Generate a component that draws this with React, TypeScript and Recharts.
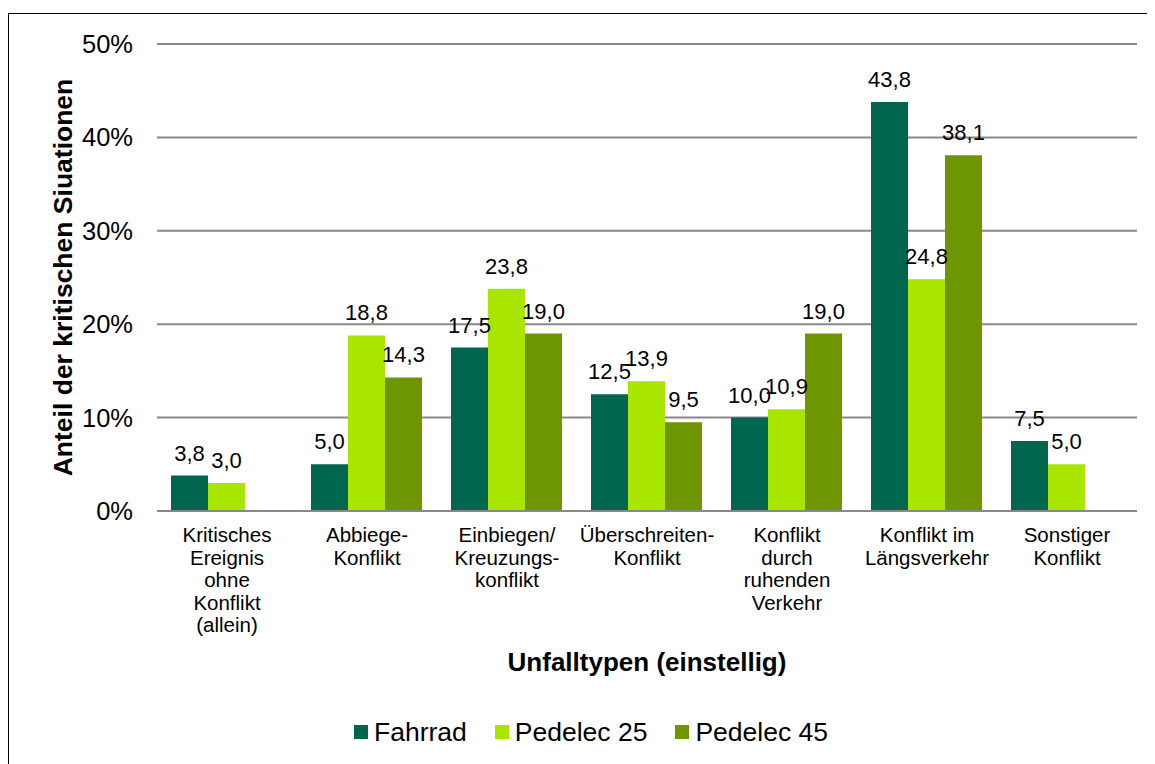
import { BarChart, Bar, XAxis, YAxis, CartesianGrid, LabelList, Legend } from "recharts";

const categories = [
  "Kritisches\nEreignis\nohne\nKonflikt\n(allein)",
  "Abbiege-\nKonflikt",
  "Einbiegen/\nKreuzungs-\nkonflikt",
  "Überschreiten-\nKonflikt",
  "Konflikt\ndurch\nruhenden\nVerkehr",
  "Konflikt im\nLängsverkehr",
  "Sonstiger\nKonflikt",
];
const fahrrad = [3.8, 5.0, 17.5, 12.5, 10.0, 43.8, 7.5];
const pedelec25 = [3.0, 18.8, 23.8, 13.9, 10.9, 24.8, 5.0];
const pedelec45 = [0.0, 14.3, 19.0, 9.5, 19.0, 38.1, 0.0];
const yTicks = [0, 10, 20, 30, 40, 50];

const series = [
  { key: "fahrrad", name: "Fahrrad", color: "#00664E" },
  { key: "pedelec25", name: "Pedelec 25", color: "#A8E600" },
  { key: "pedelec45", name: "Pedelec 45", color: "#6E9600" },
];

const data = categories.map((c, i) => ({
  category: c,
  fahrrad: fahrrad[i],
  pedelec25: pedelec25[i],
  pedelec45: pedelec45[i],
}));

const fmt = (v: number) => v.toFixed(1).replace(".", ",");

const CategoryTick = ({ x, y, payload }: any) => {
  const lines = String(payload.value).split("\n");
  return (
    <text x={x} y={y + 31} textAnchor="middle" fontSize={20.5} fill="#000">
      {lines.map((l, i) => (
        <tspan key={i} x={x} dy={i === 0 ? 0 : 22.5}>
          {l}
        </tspan>
      ))}
    </text>
  );
};

const YTitle = ({ viewBox }: any) => {
  const cx = 63;
  const cy = viewBox.y + viewBox.height / 2;
  return (
    <text
      x={cx}
      y={cy}
      transform={`rotate(-90 ${cx} ${cy})`}
      textAnchor="middle"
      fontSize={26.5}
      fontWeight="bold"
      fill="#000"
    >
      Anteil der kritischen Siuationen
    </text>
  );
};

const XTitle = ({ viewBox }: any) => (
  <text
    x={viewBox.x + viewBox.width / 2}
    y={viewBox.y + 160}
    textAnchor="middle"
    fontSize={26}
    fontWeight="bold"
    fill="#000"
  >
    Unfalltypen (einstellig)
  </text>
);

const LegendBox = () => (
  <div style={{ display: "flex", height: 30, alignItems: "center", paddingLeft: 345, fontSize: 26.5, color: "#000" }}>
    {series.map((s) => (
      <div key={s.key} style={{ display: "flex", alignItems: "center", marginRight: 28 }}>
        <div style={{ width: 14, height: 14, background: s.color, marginRight: 6 }} />
        <span>{s.name}</span>
      </div>
    ))}
  </div>
);

export default function App() {
  return (
    <div style={{ height: 756, paddingTop: 5, boxSizing: "border-box", overflow: "hidden" }}>
      <div
        style={{
          width: 1147,
          height: 751,
          boxSizing: "border-box",
          overflow: "hidden",
          borderTop: "1px solid #000",
          borderLeft: "1px solid #000",
          fontFamily: "'Liberation Sans', Arial, sans-serif",
        }}
      >
        <BarChart
          width={1146}
          height={740}
          data={data}
          margin={{ top: 30, right: 18, left: 0, bottom: 7 }}
          barCategoryGap="10%"
          barGap={0}
        >
          <CartesianGrid vertical={false} stroke="#888" strokeWidth={2} />
          <XAxis
            dataKey="category"
            interval={0}
            height={206}
            tickSize={0}
            tickMargin={0}
            tickLine={false}
            axisLine={{ stroke: "#888", strokeWidth: 2 }}
            tick={<CategoryTick />}
            label={<XTitle />}
          />
          <YAxis
            width={148}
            domain={[0, 50]}
            ticks={yTicks}
            tickFormatter={(v) => `${v}%`}
            tickSize={0}
            tickMargin={24}
            tickLine={false}
            axisLine={false}
            tick={{ fontSize: 25.5, fill: "#000" }}
            label={<YTitle />}
          />
          <Legend content={<LegendBox />} wrapperStyle={{ left: 0, width: 1146 }} />
          {series.map((s) => (
            <Bar key={s.key} dataKey={s.key} name={s.name} fill={s.color} isAnimationActive={false}>
              <LabelList
                dataKey={s.key}
                position="top"
                offset={15}
                formatter={(v: any) => fmt(Number(v))}
                style={{ fontSize: 22, fill: "#000" }}
              />
            </Bar>
          ))}
        </BarChart>
      </div>
    </div>
  );
}
